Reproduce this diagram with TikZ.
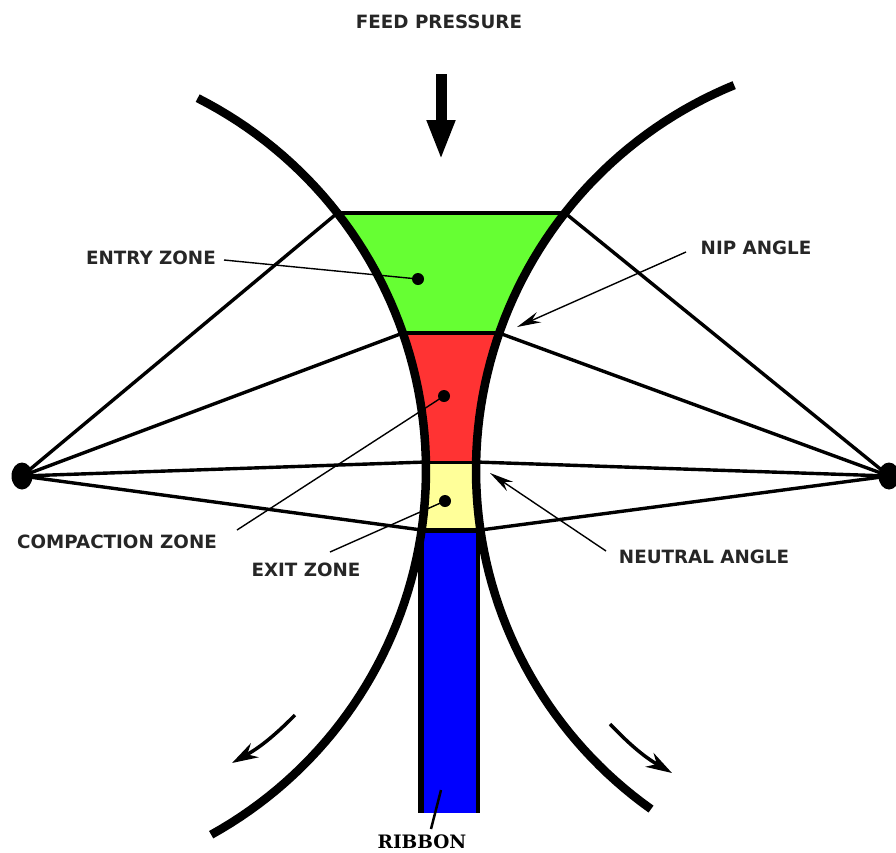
\documentclass[tikz,border=0pt]{standalone}
\usepackage{fontspec}
\setmainfont{DejaVu Sans}
\newfontfamily\ribbonfont{DejaVu Serif}
\usetikzlibrary{arrows.meta,shapes.geometric}
\definecolor{entrygreen}{RGB}{102,255,51}
\definecolor{compred}{RGB}{255,51,51}
\definecolor{exityellow}{RGB}{255,255,153}
\definecolor{ribbonblue}{RGB}{0,0,255}
\tikzset{
  rollcurve/.style={line width=8.5pt,line cap=butt},
  spoke/.style={line width=3.4pt},
  zonerule/.style={line width=4.5pt},
  leader/.style={line width=1.4pt},
  leadarrow/.style={line width=1.4pt,-{Stealth[length=24pt,width=11pt]}},
  turnarrow/.style={line width=3.5pt,-{Stealth[length=26pt,width=16pt]}},
  label/.style={font=\fontsize{18.3}{20}\selectfont\bfseries,text=black!85,inner sep=0pt},
  zonedot/.style={circle,fill=black,minimum size=12pt,inner sep=0pt},
  rollcentre/.style={ellipse,fill=black,minimum width=21pt,minimum height=27pt,inner sep=0pt},
}
\begin{document}
\begin{tikzpicture}[x=1pt,y=-1pt]
\useasboundingbox (0,0) rectangle (896,852);
% zones, bounded by the two roll circles
\fill[entrygreen] plot[domain=-38:-19.2,samples=20] ({9+417*cos(\x)},{470+417*sin(\x)}) -- plot[domain=199.2:218.2,samples=20] ({892+416*cos(\x)},{470+416*sin(\x)}) -- cycle;
\fill[compred] plot[domain=-19.2:-1.1,samples=20] ({9+417*cos(\x)},{470+417*sin(\x)}) -- plot[domain=181.1:199.2,samples=20] ({892+416*cos(\x)},{470+416*sin(\x)}) -- cycle;
\fill[exityellow] plot[domain=-1.1:8.3,samples=20] ({9+417*cos(\x)},{470+417*sin(\x)}) -- plot[domain=171.7:181.1,samples=20] ({892+416*cos(\x)},{470+416*sin(\x)}) -- cycle;
\fill[ribbonblue] (422,530) rectangle (477,813);
% rollers
\node[rollcentre] (lc) at (22,476) {};
\node[rollcentre] (rc) at (889,476) {};
\coordinate (la) at (337.4,213);
\coordinate (lb) at (402.9,333);
\coordinate (lcc) at (425.9,462);
\coordinate (ld) at (421.7,530);
\coordinate (ra) at (565,213);
\coordinate (rb) at (499,333);
\coordinate (rcc) at (476,462);
\coordinate (rd) at (480.4,530);
\draw[spoke] (lc.center) -- (la);
\draw[spoke] (lc.center) -- (lb);
\draw[spoke] (lc.center) -- (lcc);
\draw[spoke] (lc.center) -- (ld);
\draw[spoke] (rc.center) -- (ra);
\draw[spoke] (rc.center) -- (rb);
\draw[spoke] (rc.center) -- (rcc);
\draw[spoke] (rc.center) -- (rd);
\draw[zonerule] (la) -- (ra);
\draw[zonerule] (lb) -- (rb);
\draw[line width=3pt] (lcc) -- (rcc);
\draw[line width=5pt] (ld) -- (rd);
% ribbon sides
\draw[line width=6pt] (421,530) -- (421,813);
\draw[line width=4pt] (477.5,530) -- (477.5,813);
% roll surfaces
\draw[rollcurve] plot[domain=-63.1:61,samples=80] ({9+417*cos(\x)},{470+417*sin(\x)});
\draw[rollcurve] plot[domain=125.4:247.7,samples=80] ({892+416*cos(\x)},{470+416*sin(\x)});
% feed arrow
\coordinate (fa) at (441,74);
\coordinate (fb) at (441,160);
\draw[line width=11pt,-{Triangle[length=40pt,width=26pt]}] (fa) -- (fb);
% labels
\node[label] (feed) at (439,22) {FEED PRESSURE};
\node[label] (entry) at (151,258) {ENTRY ZONE};
\node[label] (comp) at (117,542) {COMPACTION ZONE};
\node[label] (exit) at (306,570) {EXIT ZONE};
\node[label] (nip) at (756,248) {NIP ANGLE};
\node[label] (neutral) at (704,557) {NEUTRAL ANGLE};
\node[font=\ribbonfont\fontsize{18.5}{20}\selectfont\bfseries,inner sep=0pt] (ribbon) at (422,842) {RIBBON};
% dots and leaders
\node[zonedot] (de) at (418,279) {};
\node[zonedot] (dc) at (444,396) {};
\node[zonedot] (dx) at (445,501) {};
\coordinate (le) at (224,260);
\coordinate (lco) at (237,530);
\coordinate (lx) at (330,552);
\draw[leader] (le) -- (de.center);
\draw[leader] (lco) -- (dc.center);
\draw[leader] (lx) -- (dx.center);
\coordinate (ns) at (686,252);
\coordinate (ne) at (517,327);
\coordinate (us) at (606,551);
\coordinate (ue) at (490,473);
\draw[leadarrow] (ns) -- (ne);
\draw[leadarrow] (us) -- (ue);
% ribbon pointer
\coordinate (rp) at (441,790);
\coordinate (rq) at (431,829);
\draw[line width=2.5pt] (rp) -- (rq);
% rotation arrows
\coordinate (tl) at (295,715);
\coordinate (tle) at (232,763);
\coordinate (tr) at (610,724);
\coordinate (tre) at (672,773);
\draw[turnarrow] (tl) to[bend left=8] (tle);
\draw[turnarrow] (tr) to[bend right=8] (tre);
\end{tikzpicture}
\end{document}
